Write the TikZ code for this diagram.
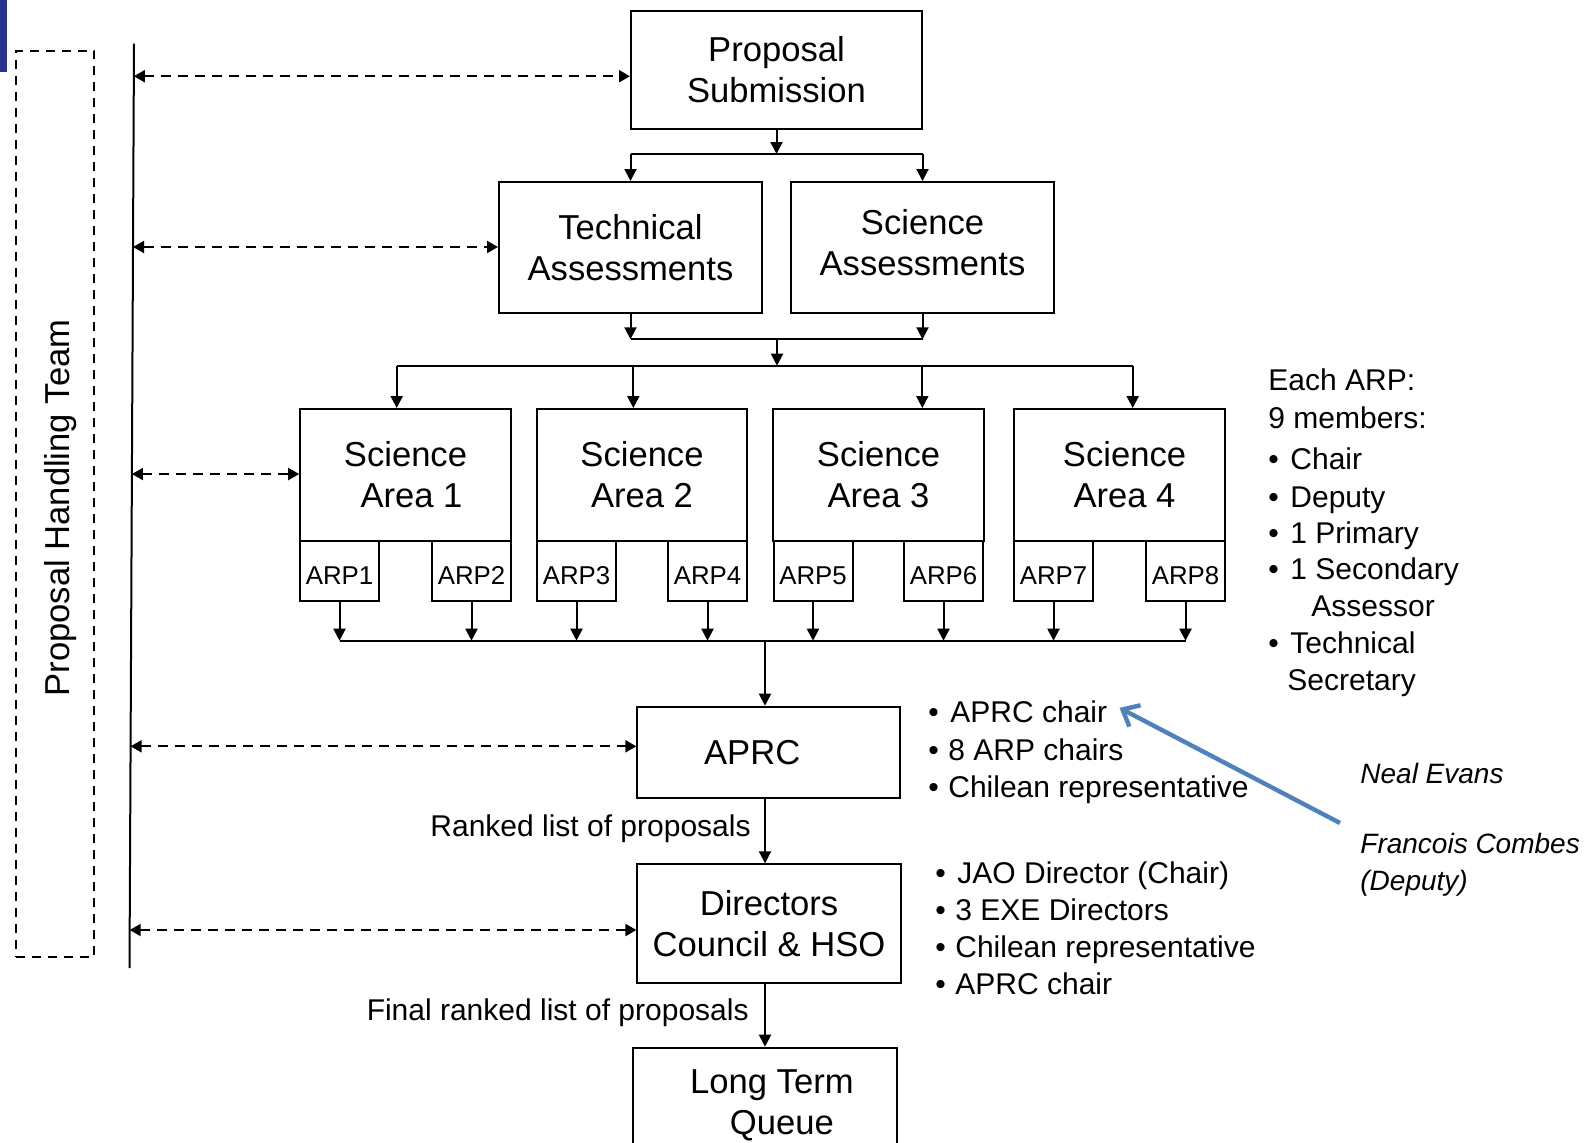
\documentclass[tikz,border=0pt]{standalone}
\usepackage{fontspec}
\setmainfont{Liberation Sans}
\usetikzlibrary{arrows.meta,calc,fit}
\newcommand\bigfnt{\fontsize{17.3pt}{20.6pt}\selectfont}
\newcommand\arpfnt{\fontsize{12.9pt}{15pt}\selectfont}
\newcommand\lstfnt{\fontsize{15pt}{18pt}\selectfont}
\newcommand\namefnt{\fontsize{14pt}{17pt}\selectfont\itshape}
\newcommand\bulA{\makebox[11pt][l]{•}}
\newcommand\bulB{\makebox[10pt][l]{•}}
\definecolor{navyblk}{RGB}{40,52,140}
\definecolor{arrblue}{RGB}{79,129,189}
\begin{document}
\begin{tikzpicture}[x=0.5pt,y=-0.5pt,
  box/.style={draw, line width=1pt, inner sep=0pt, align=center, font=\bigfnt},
  arpbox/.style={draw, line width=1pt, inner sep=0pt, font=\arpfnt,
                 minimum width=39.5pt, minimum height=30pt,
                 text height=13.2pt, text depth=0pt},
  areabox/.style={box, minimum width=105.3pt, minimum height=66pt},
  conn/.style={line width=1pt},
  arr/.style={line width=1pt,-{Triangle[length=6pt,width=6pt]}},
  darr/.style={line width=1pt, dash pattern=on 5pt off 3.5pt,
     {Triangle[length=5.5pt,width=6pt]}-{Triangle[length=5.5pt,width=6pt]}},
  lst/.style={anchor=base west, inner sep=0pt, font=\lstfnt},
  nm/.style={anchor=base west, inner sep=0pt, font=\namefnt},
  bluearr/.style={line width=2.2pt, arrblue, -{Straight Barb[length=7pt,width=12pt]}}]
\clip (0,0) rectangle (1594,1142);
\fill[white] (0,0) rectangle (1594,1142);
\fill[navyblk] (0,0) rectangle (7.3,71.7);

% left column
\node[draw, line width=1pt, dash pattern=on 4.5pt off 3.5pt, inner sep=0pt,
      fit={(15.7,50.7) (94.3,956.7)}] (team) {};
\node[rotate=90, font=\bigfnt, inner sep=0pt] (pht) at (61,508) {Proposal Handling Team};
\coordinate (vt) at (134,43.5);
\coordinate (vb) at (129.5,968);
\draw[conn] (vt) -- (vb);

% main boxes
\node[box, minimum width=145.5pt, minimum height=59pt] (ps) at (776.5,70) {Proposal\\Submission};
\node[box, minimum width=131.5pt, minimum height=65.5pt] (ta) at (630.5,247.5) {Technical\\Assessments};
\node[box, minimum width=131.5pt, minimum height=65.5pt, text depth=5pt] (sa) at (922.5,247.5) {Science\\Assessments};

\node[areabox] (sci1) at (405.5,475) {Science\\\hspace*{3pt}Area 1\hspace*{-3pt}};
\node[areabox] (sci2) at (642,475) {Science\\Area 2};
\node[areabox] (sci3) at (878.5,475) {Science\\Area 3};
\node[areabox] (sci4) at (1119.5,475) {\hspace*{5pt}Science\\\hspace*{5pt}Area 4};

\node[arpbox] (arp1) at (339.5,571) {ARP1};
\node[arpbox] (arp2) at (471.5,571) {ARP2};
\node[arpbox] (arp3) at (576.5,571) {ARP3};
\node[arpbox] (arp4) at (707.5,571) {ARP4};
\node[arpbox] (arp5) at (813,571) {ARP5};
\node[arpbox] (arp6) at (943.5,571) {ARP6};
\node[arpbox] (arp7) at (1053.5,571) {ARP7};
\node[arpbox] (arp8) at (1185.5,571) {ARP8};

\node[box, minimum width=131.3pt, minimum height=45.8pt] (aprc) at (768.7,752.5) {APRC\hspace*{16.5pt}};
\node[box, minimum width=131.6pt, minimum height=59.2pt] (dir) at (769,923.5) {Directors\\Council \& HSO};
\node[box, minimum width=131.8pt, minimum height=57.3pt] (ltq) at (764.9,1105) {\hspace*{7pt}Long Term\\\hspace*{17pt}Queue};

% top connectors
\coordinate (s1) at (776,154);
\draw[arr] (ps.south) -- (ps.south |- s1);
\draw[conn] (ta.north |- s1) -- (sa.north |- s1);
\draw[arr] (ta.north |- s1) -- (ta.north);
\draw[arr] (sa.north |- s1) -- (sa.north);

\coordinate (m1) at (777,339.3);
\coordinate (m2) at (777,365.7);
\draw[arr] (ta.south) -- (ta.south |- m1);
\draw[arr] (sa.south) -- (sa.south |- m1);
\draw[conn] (ta.south |- m1) -- (sa.south |- m1);
\draw[arr] (m1) -- (m2);

\coordinate (b1) at (396.7,365.7);
\coordinate (b2) at (633.3,365.7);
\coordinate (b3) at (922.3,365.7);
\coordinate (b4) at (1132.7,365.7);
\draw[conn] (b1) -- (b4);
\draw[arr] (b1) -- (b1 |- sci1.north);
\draw[arr] (b2) -- (b2 |- sci2.north);
\draw[arr] (b3) -- (b3 |- sci3.north);
\draw[arr] (b4) -- (b4 |- sci4.north);

% bus
\coordinate (busL) at (339.5,640.7);
\coordinate (busR) at (1185.5,640.7);
\coordinate (busM) at (765,640.7);
\draw[conn] (busL) -- (busR);
\foreach \i in {1,...,8} \draw[arr] (arp\i.south) -- (arp\i.south |- busL);
\draw[arr] (busM) -- (busM |- aprc.north);
\draw[arr] (aprc.south -| busM) -- (dir.north -| busM);
\draw[arr] (dir.south -| busM) -- (ltq.north -| busM);

\node[lst, anchor=base east] (rl) at (751,836.5) {Ranked list of proposals};
\node[lst, anchor=base east] (frl) at (749,1020.5) {Final ranked list of proposals};

% dashed arrows
\coordinate (h1) at ($(vt)!0.0354!(vb)$);
\coordinate (h2) at ($(vt)!0.2201!(vb)$);
\coordinate (h3) at ($(vt)!0.4657!(vb)$);
\coordinate (h4) at ($(vt)!0.7602!(vb)$);
\coordinate (h5) at ($(vt)!0.9589!(vb)$);
\draw[darr] (h1) -- (h1 -| ps.west);
\draw[darr] (h2) -- (h2 -| ta.west);
\draw[darr] (h3) -- (h3 -| sci1.west);
\draw[darr] (h4) -- (h4 -| aprc.west);
\draw[darr] (h5) -- (h5 -| dir.west);

% Each ARP list
\node[lst] (e1) at (1268,390) {Each ARP:};
\node[lst] (e2) at (1268,428) {9 members:};
\node[lst] (e3) at (1268,469.5) {\bulA Chair};
\node[lst] (e4) at (1268,507) {\bulA Deputy};
\node[lst] (e5) at (1268,543.7) {\bulA 1 Primary};
\node[lst] (e6) at (1268,579.3) {\bulA 1 Secondary};
\node[lst] (e7) at (1311,616) {Assessor};
\node[lst] (e8) at (1268,653.5) {\bulA Technical};
\node[lst] (e9) at (1287,690) {Secretary};

% APRC list
\node[lst] (ap1) at (928,722.6) {\bulA APRC chair};
\node[lst] (ap2) at (928,760.3) {\bulB 8 ARP chairs};
\node[lst] (ap3) at (928,797.9) {\bulB Chilean representative};

% Directors list
\node[lst] (d1) at (935,883.3) {\bulA JAO Director (Chair)};
\node[lst] (d2) at (935,920.9) {\bulB 3 EXE Directors};
\node[lst] (d3) at (935,957.5) {\bulB Chilean representative};
\node[lst] (d4) at (935,994) {\bulB APRC chair};

% names
\node[nm] (n1) at (1360,783.6) {Neal Evans};
\node[nm] (n2) at (1360,853.8) {Francois Combes};
\node[nm] (n3) at (1360,890.4) {(Deputy)};

\coordinate (bt) at (1340,823);
\draw[bluearr] (bt) -- ($(ap1.east)+(12,-4)$);
\end{tikzpicture}
\end{document}
